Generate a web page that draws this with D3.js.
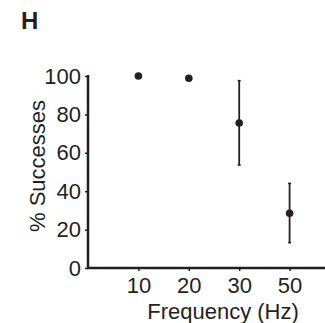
<!DOCTYPE html>
<html><head><meta charset="utf-8">
<script src="https://cdn.jsdelivr.net/npm/d3@7"></script>
<style>body{margin:0;background:#fff;} text{font-family:"Liberation Sans",Arial,sans-serif;}</style>
</head><body><svg id="c" width="325" height="323"></svg>
<script>
const categories = ["10", "20", "30", "50"];
const means = [100, 98.8, 75.5, 28.5];
const upper = [null, null, 97.6, 44.1];
const lower = [null, null, 53.6, 13.2];
const yTicks = [0, 20, 40, 60, 80, 100];

(function () {
const svg = d3.select("#c");
const color = "#231f20";
const fs = 22;
const mLeft = 88, mRight = 325, mTop = 76, mBottom = 268;

const x = d3.scalePoint().domain(["", ...categories]).range([mLeft, mLeft + 4 * 50.4]);
const y = d3.scaleLinear().domain([0, 100]).range([mBottom, mTop]);

// y axis
const ya = svg.append("g").attr("transform", `translate(${mLeft},0)`)
  .call(d3.axisLeft(y).tickValues(yTicks).tickSize(3).tickPadding(4));
ya.select(".domain").remove();
ya.selectAll("line").attr("stroke", color).attr("stroke-width", 1.5);
ya.selectAll("text").attr("font-size", fs).attr("fill", color);
svg.append("line").attr("x1", mLeft).attr("x2", mLeft).attr("y1", y(100) - 1).attr("y2", mBottom + 1)
  .attr("stroke", color).attr("stroke-width", 2.5);

// x axis
const xa = svg.append("g").attr("transform", `translate(0,${mBottom})`)
  .call(d3.axisBottom(x).tickValues(categories).tickSize(3).tickPadding(6));
xa.select(".domain").remove();
xa.selectAll("line").attr("stroke", color).attr("stroke-width", 1.5);
xa.selectAll("text").attr("font-size", fs).attr("fill", color);
svg.append("line").attr("x1", mLeft - 1).attr("x2", mRight).attr("y1", mBottom).attr("y2", mBottom)
  .attr("stroke", color).attr("stroke-width", 2.5);

// error bars
categories.forEach((c, i) => {
  if (upper[i] == null) return;
  const cx = x(c);
  svg.append("line").attr("x1", cx).attr("x2", cx).attr("y1", y(upper[i])).attr("y2", y(lower[i]))
    .attr("stroke", color).attr("stroke-width", 1.8);
  [upper[i], lower[i]].forEach(v => svg.append("line").attr("x1", cx - 1.5).attr("x2", cx + 1.5)
    .attr("y1", y(v)).attr("y2", y(v)).attr("stroke", color).attr("stroke-width", 1.5));
});

// points
svg.selectAll("circle.pt").data(categories).enter().append("circle")
  .attr("cx", d => x(d)).attr("cy", (d, i) => y(means[i])).attr("r", 3.8).attr("fill", color);

// labels
svg.append("text").attr("x", 223).attr("y", 319).attr("text-anchor", "middle")
  .attr("font-size", fs).attr("fill", color).text("Frequency (Hz)");
svg.append("text").attr("transform", "translate(45,166) rotate(-90)").attr("text-anchor", "middle")
  .attr("font-size", fs).attr("fill", color).text("% Successes");
svg.append("text").attr("x", 21).attr("y", 28.5).attr("font-size", 24).attr("font-weight", "bold")
  .attr("fill", color).text("H");
})();
</script></body></html>
